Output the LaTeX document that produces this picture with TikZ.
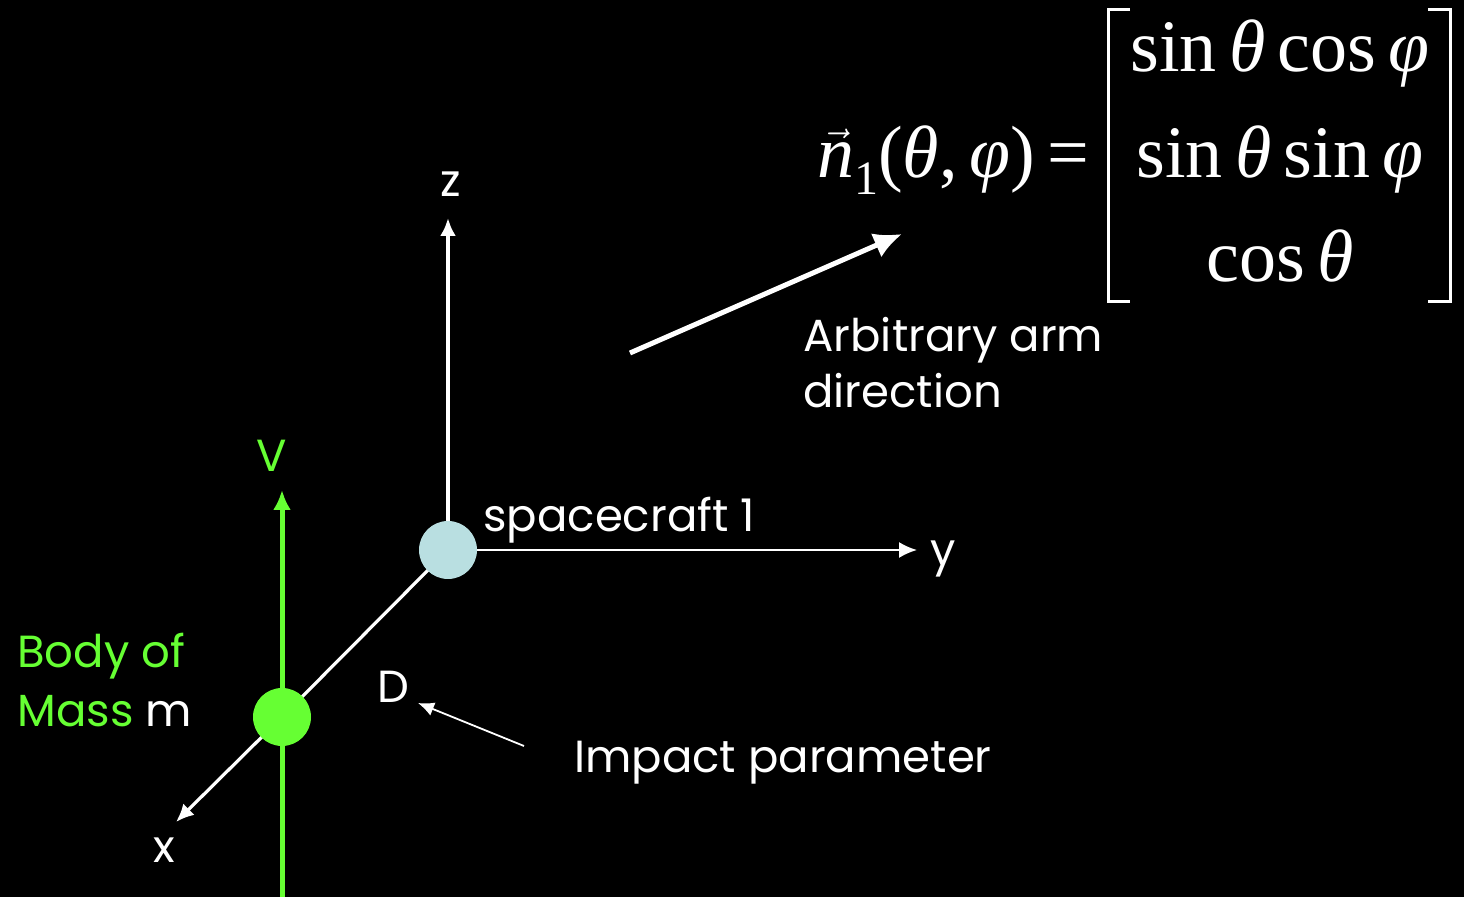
\documentclass[tikz,border=0pt]{standalone}
\usepackage{fontspec}
\setmainfont{Poppins}
\newfontfamily\tnr{Liberation Serif}
\usetikzlibrary{arrows.meta}
\definecolor{vgreen}{HTML}{66FF33}
\definecolor{scblue}{HTML}{B9DFE1}
\pgfdeclarelayer{bg}
\pgfsetlayers{bg,main}
\begin{document}
\begin{tikzpicture}[x=0.5pt,y=-0.5pt,
  lbl/.style={text=white,inner sep=0pt,font=\fontsize{22.5}{28}\selectfont},
  glbl/.style={lbl,text=vgreen},
  mth/.style={text=white,inner sep=0pt,font=\tnr\fontsize{37}{44}\selectfont},
  axis/.style={white,line width=1.6pt,-{Latex[length=9pt,width=8pt]}},
  ball/.style={circle,inner sep=0pt,minimum size=29pt}]
\begin{pgfonlayer}{bg}
\fill[black] (0,0) rectangle (1464,897);
\end{pgfonlayer}
\useasboundingbox (0,0) rectangle (1464,897);

% bodies
\node[ball,fill=scblue] (sc) at (448,550) {};
\node[ball,fill=vgreen] (body) at (282,717) {};

% axis end points
\coordinate (zt) at (448,218);
\coordinate (yt) at (917,550);
\coordinate (xt) at (176,822);
\coordinate (vb) at (282,897);
\coordinate (vt) at (282,490);
\coordinate (arm0) at (630,353);
\coordinate (arm1) at (902,234);
\coordinate (imp0) at (524,746);
\coordinate (imp1) at (418,703);

\begin{pgfonlayer}{bg}
\draw[axis,line width=2pt] (sc.center) -- (zt);
\draw[axis,line width=1pt] (sc.center) -- (yt);
\draw[white,line width=1.6pt] (sc.center) -- (body.center);
\draw[axis] (body.center) -- (xt);
\draw[vgreen,line width=2.5pt,-{Latex[length=10pt,width=9pt]}] (vb) -- (vt);
\end{pgfonlayer}

\draw[white,line width=2.5pt,-{Latex[length=14pt,width=13pt]}] (arm0) -- (arm1);
\draw[white,line width=0.9pt,-{Latex[length=8pt,width=7pt]}] (imp0) -- (imp1);

% labels
\node[lbl,anchor=base] (zl) at (451,197) {z};
\node[lbl,anchor=base] (yl) at (943,566) {y};
\node[lbl,anchor=base] (xl) at (164,863) {x};
\node[glbl,anchor=base] (vl) at (272,472) {V};
\node[lbl,anchor=base west] (scl) at (483,532) {spacecraft 1};
\node[lbl,anchor=base west] (dl) at (377,703) {D};
\node[lbl,anchor=base west] (ipl) at (574,773) {Impact parameter};
\node[lbl,anchor=base west] (arl1) at (803,352) {Arbitrary arm};
\node[lbl,anchor=base west] (arl2) at (803,408) {direction};
\node[glbl,anchor=base west] (bl1) at (17,668) {Body of};
\node[glbl,anchor=base west] (bl2) at (17,727) {Mass \textcolor{white}{m}};

% equation
\node[mth,anchor=base east] (lhs) at (1090,178)
  {$\vec{\mbox{\tnr\itshape n}}$\raisebox{-0.22em}{\fontsize{24}{28}\selectfont 1}(\textit{θ},\,\textit{φ})\,=};
\node[mth,anchor=base] (r1) at (1280,72) {sin\,\textit{θ}\,cos\,\textit{φ}};
\node[mth,anchor=base] (r2) at (1280,178) {sin\,\textit{θ}\,sin\,\textit{φ}};
\node[mth,anchor=base] (r3) at (1280,282) {cos\,\textit{θ}};
\draw[white,line width=1.5pt] (1130,10) -- (1108,10) -- (1108,302) -- (1130,302);
\draw[white,line width=1.5pt] (1428,10) -- (1450,10) -- (1450,302) -- (1428,302);
\end{tikzpicture}
\end{document}
